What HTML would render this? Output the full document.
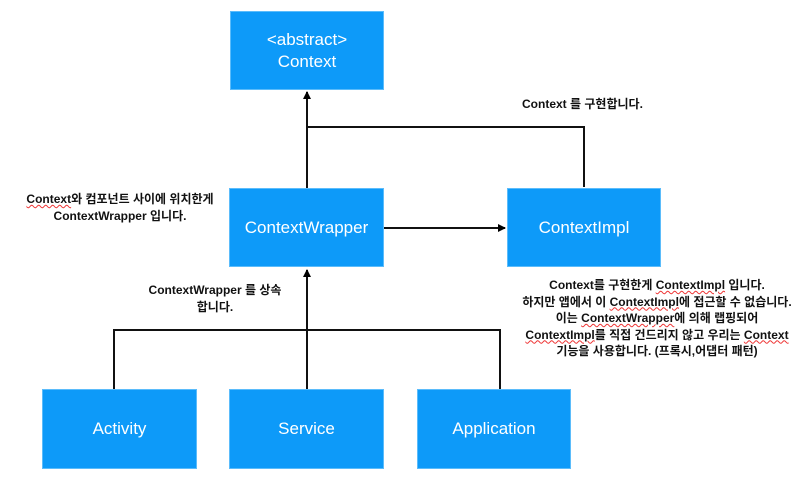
<!DOCTYPE html>
<html><head><meta charset="utf-8"><style>
body{margin:0;width:806px;height:484px;background:#fff;position:relative;overflow:hidden;font-family:"Liberation Sans","Noto Sans CJK KR",sans-serif}
.b{position:absolute;background:#0d9af9;color:#fff;font-size:17px;display:flex;align-items:center;justify-content:center;text-align:center;line-height:22px;border:1px solid #5bbcfb;box-sizing:border-box}
.t{position:absolute;font-size:12px;font-weight:bold;color:#111;text-align:center;line-height:16.5px;white-space:nowrap}
.u{text-decoration:underline wavy #e33;text-decoration-thickness:1px}
</style></head><body>
<svg width="806" height="484" style="position:absolute;left:0;top:0">
<defs><marker id="a" markerWidth="8" markerHeight="8" refX="7" refY="4" orient="auto" markerUnits="userSpaceOnUse"><path d="M0,0 L8,4 L0,8 z" fill="#000"/></marker></defs>
<g stroke="#111" stroke-width="2" fill="none">
<line x1="307" y1="188" x2="307" y2="92" marker-end="url(#a)"/>
<polyline points="307,127 584,127 584,187"/>
<line x1="384" y1="228" x2="505" y2="228" marker-end="url(#a)"/>
<line x1="307" y1="331" x2="307" y2="270" marker-end="url(#a)"/>
<polyline points="114,389 114,330 500,330 500,389"/>
<line x1="307" y1="330" x2="307" y2="389"/>
</g></svg>
<div class="b" style="left:230px;top:11px;width:154px;height:79px">&lt;abstract&gt;<br>Context</div>
<div class="b" style="left:229px;top:188px;width:155px;height:79px">ContextWrapper</div>
<div class="b" style="left:507px;top:188px;width:154px;height:79px">ContextImpl</div>
<div class="b" style="left:42px;top:389px;width:155px;height:80px">Activity</div>
<div class="b" style="left:229px;top:389px;width:155px;height:80px">Service</div>
<div class="b" style="left:417px;top:389px;width:154px;height:80px">Application</div>
<div class="t" style="left:522px;top:96px">Context 를 구현합니다.</div>
<div class="t" style="left:10px;top:191px;width:220px"><span class="u">Context</span>와 컴포넌트 사이에 위치한게<br>ContextWrapper 입니다.</div>
<div class="t" style="left:130px;top:282px;width:170px">ContextWrapper 를 상속<br>합니다.</div>
<div class="t" style="left:502px;top:277px;width:310px">Context를 구현한게 <span class="u">ContextImpl</span> 입니다.<br>하지만 앱에서 이 <span class="u">ContextImpl</span>에 접근할 수 없습니다.<br>이는 <span class="u">ContextWrapper</span>에 의해 랩핑되어<br><span class="u">ContextImpl</span>를 직접 건드리지 않고 우리는 <span class="u">Context</span><br>기능을 사용합니다. (프록시,어댑터 패턴)</div>
</body></html>
